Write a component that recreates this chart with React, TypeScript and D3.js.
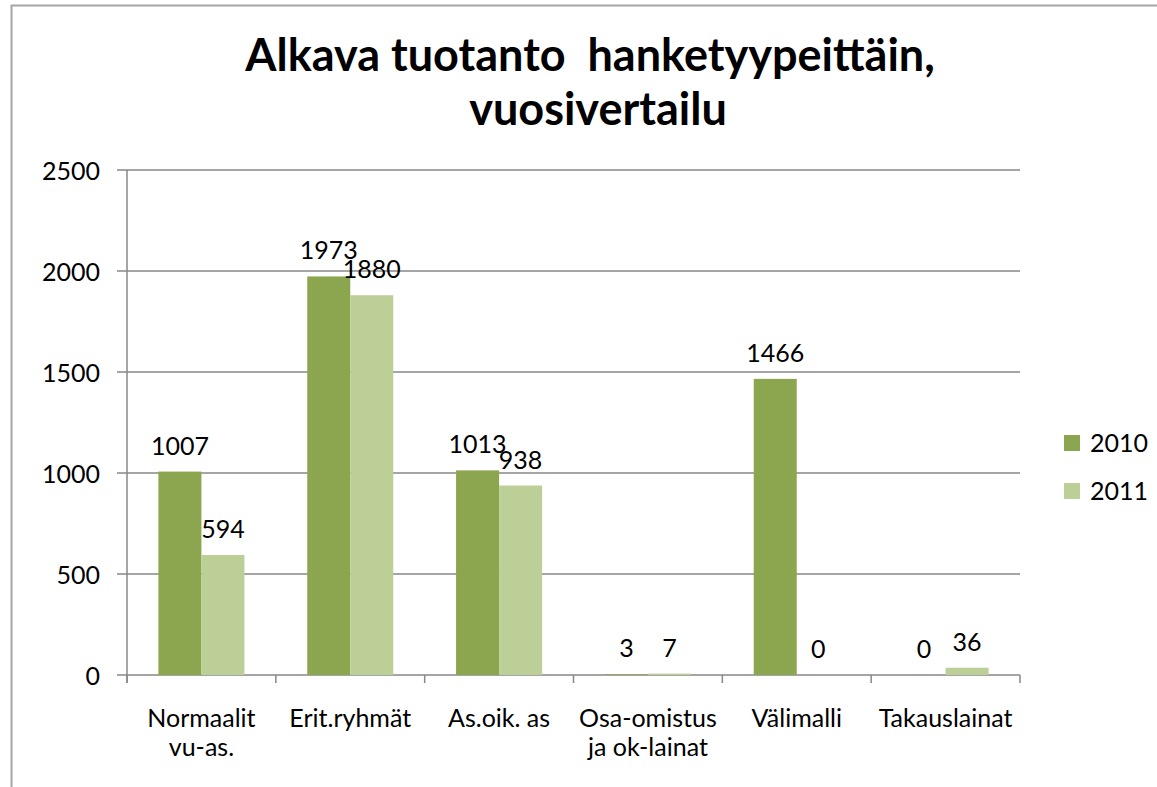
import { useEffect, useRef } from "react";
import * as d3 from "d3";

const categories = [
  ["Normaalit", "vu-as."],
  ["Erit.ryhmät"],
  ["As.oik. as"],
  ["Osa-omistus", "ja ok-lainat"],
  ["Välimalli"],
  ["Takauslainat"],
];
const series = ["2010", "2011"];
const values2010 = [1007, 1973, 1013, 3, 1466, 0];
const values2011 = [594, 1880, 938, 7, 0, 36];
const yTicks = [0, 500, 1000, 1500, 2000, 2500];
const colors = ["#8ba64f", "#bbcf97"];

const W = 1157;
const H = 787;
const FONT = "Lato, 'Open Sans', sans-serif";
const FS = 25;

const App = () => {
  const ref = useRef<SVGSVGElement>(null);

  useEffect(() => {
    if (!ref.current) return;
    const svg = d3.select(ref.current);
    svg.selectAll("*").remove();

    const left = 127, right = 1020, top = 170, bottom = 675;

    // outer chart frame (runs off the right and bottom edges)
    svg.append("rect")
      .attr("x", 11.5).attr("y", 5.5)
      .attr("width", W + 20).attr("height", H + 20)
      .attr("fill", "white").attr("stroke", "#a6a6a6").attr("stroke-width", 2);

    svg.append("text")
      .attr("x", 590).attr("y", 71)
      .attr("text-anchor", "middle")
      .attr("font-family", FONT).attr("font-weight", "bold").attr("font-size", 45)
      .style("white-space", "pre")
      .text("Alkava tuotanto  hanketyypeittäin,");
    svg.append("text")
      .attr("x", 598).attr("y", 125)
      .attr("text-anchor", "middle")
      .attr("font-family", FONT).attr("font-weight", "bold").attr("font-size", 45)
      .text("vuosivertailu");

    const x = d3.scaleBand<number>()
      .domain(d3.range(categories.length))
      .range([left, right]);
    const inner = d3.scaleBand<string>()
      .domain(series)
      .range([x.bandwidth() * 0.211, x.bandwidth() * 0.789]);
    const y = d3.scaleLinear().domain([0, 2500]).range([bottom, top]);

    // gridlines + y ticks
    svg.append("g").selectAll("line")
      .data(yTicks)
      .join("line")
      .attr("x1", left - 10).attr("x2", right)
      .attr("y1", (d) => y(d)).attr("y2", (d) => y(d))
      .attr("stroke", "#878787").attr("stroke-width", 1.5);

    svg.append("g").selectAll("text")
      .data(yTicks)
      .join("text")
      .attr("x", 100).attr("y", (d) => y(d) + 10)
      .attr("text-anchor", "end")
      .attr("font-family", FONT).attr("font-size", FS)
      .text((d) => d);

    // bars
    const groups = svg.append("g").selectAll("g")
      .data(categories.map((c, i) => i))
      .join("g")
      .attr("transform", (i) => `translate(${x(i)},0)`);

    const rows = (i: number) => [
      { s: series[0], v: values2010[i], c: colors[0] },
      { s: series[1], v: values2011[i], c: colors[1] },
    ];

    groups.selectAll("rect")
      .data((i) => rows(i))
      .join("rect")
      .attr("x", (d) => inner(d.s)!)
      .attr("width", inner.bandwidth())
      .attr("y", (d) => y(d.v))
      .attr("height", (d) => bottom - y(d.v))
      .attr("fill", (d) => d.c);

    groups.selectAll("text")
      .data((i) => rows(i))
      .join("text")
      .attr("x", (d) => inner(d.s)! + inner.bandwidth() / 2)
      .attr("y", (d) => y(d.v) - 17)
      .attr("text-anchor", "middle")
      .attr("font-family", FONT).attr("font-size", FS)
      .text((d) => d.v);

    // axes lines
    svg.append("line")
      .attr("x1", left).attr("x2", left).attr("y1", top).attr("y2", bottom + 8)
      .attr("stroke", "#878787").attr("stroke-width", 1.5);
    svg.append("g").selectAll("line")
      .data(d3.range(categories.length + 1))
      .join("line")
      .attr("x1", (i) => left + i * x.step()).attr("x2", (i) => left + i * x.step())
      .attr("y1", bottom).attr("y2", bottom + 8)
      .attr("stroke", "#878787").attr("stroke-width", 1.5);

    // category labels
    const cat = svg.append("g").selectAll("text")
      .data(categories)
      .join("text")
      .attr("x", (d, i) => x(i)! + x.bandwidth() / 2)
      .attr("y", 727)
      .attr("text-anchor", "middle")
      .attr("font-family", FONT).attr("font-size", FS);
    cat.selectAll("tspan")
      .data((d) => d)
      .join("tspan")
      .attr("x", function () {
        return (this as SVGTSpanElement).parentElement!.getAttribute("x");
      })
      .attr("dy", (d, j) => (j === 0 ? 0 : 29))
      .text((d) => d);

    // legend
    const leg = svg.append("g").selectAll("g")
      .data(series)
      .join("g")
      .attr("transform", (d, i) => `translate(1064,${435 + i * 48})`);
    leg.append("rect").attr("width", 16).attr("height", 16)
      .attr("fill", (d, i) => colors[i]);
    leg.append("text").attr("x", 26).attr("y", 17)
      .attr("font-family", FONT).attr("font-size", FS)
      .text((d) => d);
  }, []);

  return (
    <svg
      ref={ref}
      width={W}
      height={H}
      style={{ position: "absolute", left: 0, top: 0, display: "block" }}
    />
  );
};

export default App;
